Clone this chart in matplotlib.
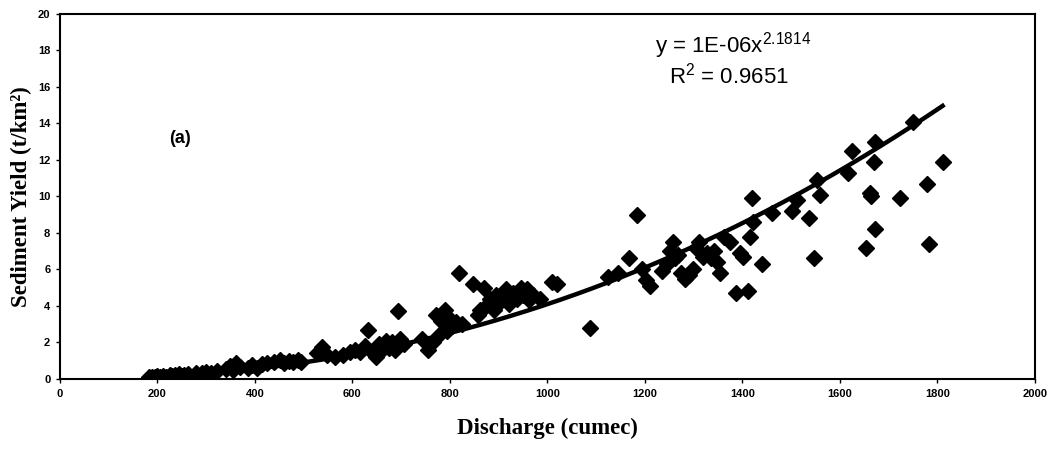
import numpy as np
import matplotlib
matplotlib.use("Agg")
import matplotlib.pyplot as plt

plt.rcParams['mathtext.fontset'] = 'custom'
plt.rcParams['mathtext.rm'] = 'Liberation Sans'
plt.rcParams['mathtext.it'] = 'Liberation Sans'
plt.rcParams['mathtext.bf'] = 'Liberation Sans:bold'

# discharge (cumec) and sediment yield (t/km2)
discharge = [182, 188, 195, 200, 205, 212, 218, 225, 230, 235, 240, 245, 250, 255, 262,
             280, 292, 300, 310, 322,
             340, 348, 355, 362, 370, 385, 395, 405, 415, 425, 440, 452, 460, 470, 478, 488, 495,
             528, 538, 548, 565, 580, 595, 605, 615, 625, 632, 640, 648, 655, 660, 668, 675,
             682, 688, 693, 698, 705, 742, 755, 765, 772, 778, 782, 790, 795, 800, 805, 812,
             818, 825, 848, 858, 862, 870, 875, 882, 890, 895, 902, 910, 915, 922, 930, 938,
             945, 950, 958, 962, 970, 985, 1010, 1020,
             1087, 1125, 1145, 1168, 1183, 1195, 1202, 1210, 1235, 1245, 1252, 1258, 1262,
             1268, 1275, 1282, 1290, 1298, 1305, 1312, 1320, 1327, 1335, 1342, 1348, 1355,
             1362, 1374, 1388, 1395, 1402, 1411, 1415, 1419, 1422, 1440, 1460, 1502, 1512,
             1536, 1547, 1553, 1559, 1616, 1625, 1653, 1662, 1665, 1670, 1672, 1672, 1723,
             1750, 1778, 1783, 1811]
sed_yield = [0.10, 0.12, 0.10, 0.14, 0.11, 0.16, 0.13, 0.20, 0.14, 0.22, 0.17, 0.25, 0.15, 0.22, 0.26,
             0.30, 0.35, 0.40, 0.35, 0.45,
             0.55, 0.70, 0.50, 0.85, 0.65, 0.60, 0.75, 0.60, 0.80, 0.85, 0.95, 1.05, 0.85, 1.00, 0.90, 1.05, 0.95,
             1.40, 1.75, 1.30, 1.20, 1.30, 1.45, 1.60, 1.50, 1.80, 2.70, 1.50, 1.20, 1.90, 1.60, 2.10, 1.70,
             2.00, 1.60, 3.70, 2.20, 1.90, 2.20, 1.60, 2.00, 3.50, 2.40, 3.20, 3.80, 2.60, 3.30, 2.90, 3.10,
             5.80, 3.00, 5.20, 3.50, 3.80, 5.00, 4.00, 4.40, 3.80, 4.60, 4.20, 4.40, 4.90, 4.10, 4.70, 4.40,
             5.00, 4.60, 4.90, 4.30, 4.60, 4.40, 5.30, 5.20,
             2.80, 5.60, 5.80, 6.60, 9.00, 6.00, 5.40, 5.10, 5.90, 6.30, 7.00, 7.50, 6.60,
             6.80, 5.80, 5.50, 5.70, 6.00, 7.20, 7.50, 6.70, 6.90, 6.60, 7.00, 6.40, 5.80,
             7.80, 7.50, 4.70, 6.90, 6.70, 4.80, 7.80, 9.90, 8.60, 6.30, 9.10, 9.20, 9.80,
             8.80, 6.60, 10.90, 10.10, 11.30, 12.50, 7.20, 10.20, 10.00, 11.90, 13.00, 8.20, 9.90,
             14.10, 10.70, 7.40, 11.90]

# power trendline as drawn in the chart (exponent from the label, coefficient unrounded)
trend_coef = 1.17e-6
trend_exp = 2.1814

x_ticks = [0, 200, 400, 600, 800, 1000, 1200, 1400, 1600, 1800, 2000]
y_ticks = [0, 2, 4, 6, 8, 10, 12, 14, 16, 18, 20]

x = np.array(discharge, dtype=float)
y = np.array(sed_yield, dtype=float)
xf = np.linspace(x.min(), x.max(), 200)
yf = trend_coef * xf ** trend_exp

fig = plt.figure(figsize=(10.58, 4.5), dpi=100)
ax = fig.add_axes([0.0567, 0.158, 0.9213, 0.811])

ax.plot(x, y, 'D', color='black', markersize=8.5, zorder=3)
ax.plot(xf, yf, color='black', linewidth=3.2, zorder=4)

ax.set_xlim(0, 2000)
ax.set_ylim(0, 20)
ax.set_xticks(x_ticks)
ax.set_yticks(y_ticks)
for s in ax.spines.values():
    s.set_linewidth(1.5)
ax.tick_params(direction='out', length=3, width=1, labelsize=8, pad=4)
for lab in ax.get_xticklabels() + ax.get_yticklabels():
    lab.set_fontfamily('Liberation Sans')
    lab.set_fontweight('bold')

ax.set_xlabel('Discharge (cumec)', fontsize=16.5, fontweight='bold',
              family='Liberation Serif', labelpad=14)
ax.set_ylabel('Sediment Yield (t/km²)', fontsize=16.5, fontweight='bold',
              family='Liberation Serif', labelpad=4)

ax.text(1382, 18.25, 'y = 1E-06x$^{2.1814}$', fontsize=16, family='Liberation Sans',
        ha='center', va='center')
ax.text(1372, 16.65, 'R$^2$ = 0.9651', fontsize=16, family='Liberation Sans',
        ha='center', va='center')
ax.text(246, 13.2, '(a)', fontsize=13, fontweight='bold', family='Liberation Sans',
        ha='center', va='center')

fig.savefig('out.png', dpi=100)
